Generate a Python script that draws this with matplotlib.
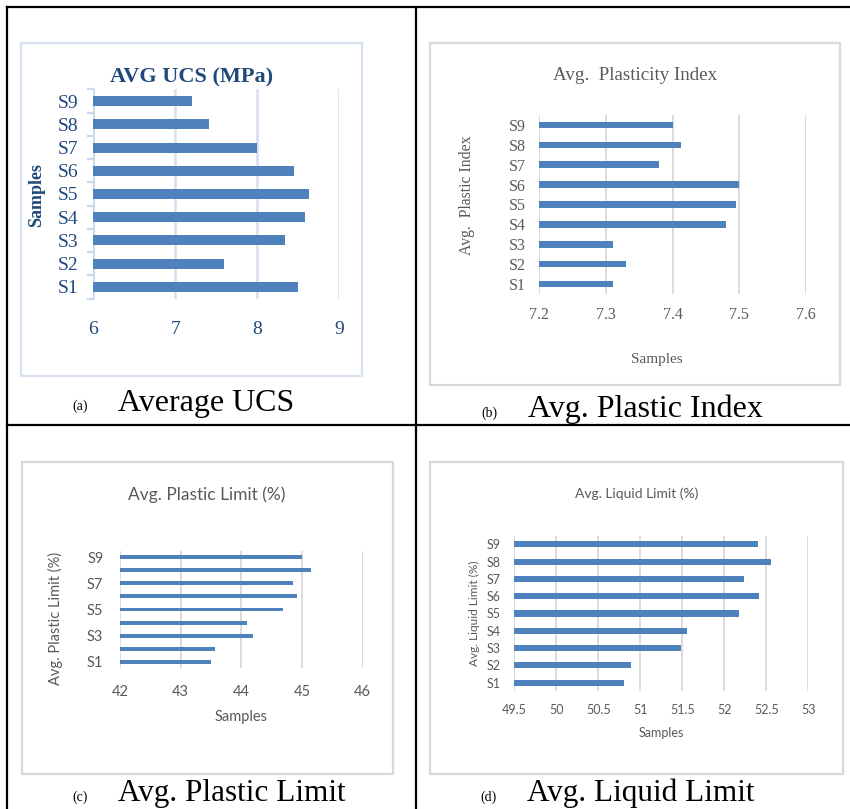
import numpy as np
import matplotlib.pyplot as plt
from matplotlib.lines import Line2D
from matplotlib.patches import Rectangle

W, H = 850, 809

samples = ['S1', 'S2', 'S3', 'S4', 'S5', 'S6', 'S7', 'S8', 'S9']
ucs = [8.50, 7.60, 8.34, 8.58, 8.63, 8.45, 8.00, 7.41, 7.20]
plastic_index = [7.31, 7.33, 7.31, 7.48, 7.495, 7.50, 7.38, 7.413, 7.40]
plastic_limit = [43.50, 43.57, 44.19, 44.09, 44.69, 44.91, 44.85, 45.15, 45.00]
liquid_limit = [50.80, 50.885, 51.48, 51.56, 52.18, 52.41, 52.23, 52.55, 52.40]

ucs_ticks = [6, 7, 8, 9]
pi_ticks = [7.2, 7.3, 7.4, 7.5, 7.6]
pl_ticks = [42, 43, 44, 45, 46]
ll_ticks = [49.5, 50, 50.5, 51, 51.5, 52, 52.5, 53]

BAR = '#4f81bd'
GRAY = '#595959'
NAVY = '#1f497d'
SERIF = 'Liberation Serif'
SANS = 'Lato'


def rect(x0, y0, x1, y1):
    # pixel box (top-left origin) -> figure fraction
    return [x0 / W, 1 - y1 / H, (x1 - x0) / W, (y1 - y0) / H]


def ftext(x, y, s, **kw):
    fig.text(x / W, 1 - y / H, s, **kw)


def frame(x0, y0, x1, y1, color):
    fig.add_artist(Rectangle((x0 / W, 1 - y1 / H), (x1 - x0) / W, (y1 - y0) / H,
                             transform=fig.transFigure, fill=False,
                             edgecolor=color, lw=1.6))


def panel(box, values, ticks, height, grid, font, tcolor, tsize, xpad, ypad,
          ylabels=None):
    ax = fig.add_axes(rect(*box))
    y = np.arange(len(samples))
    ax.barh(y, values, height=height, color=BAR, zorder=3)
    ax.set_xlim(ticks[0], ticks[-1])
    ax.set_ylim(-0.5, len(samples) - 0.5)
    ax.set_xticks(ticks)
    ax.set_xticklabels([('%g' % t) for t in ticks], family=font, color=tcolor, size=tsize)
    ax.set_yticks(y)
    ax.set_yticklabels(ylabels if ylabels else samples, family=font, color=tcolor, size=tsize)
    ax.tick_params(axis='x', length=0, pad=xpad)
    ax.tick_params(axis='y', length=0, pad=ypad)
    for s in ax.spines.values():
        s.set_visible(False)
    ax.set_facecolor('none')
    ax.grid(axis='x', color=grid, lw=1.3, zorder=0)
    ax.grid(axis='y', visible=False)
    return ax


fig = plt.figure(figsize=(8.5, 8.09), dpi=100)

# table lines
for (x0, y0, x1, y1) in [(7, 7, 850, 7), (7, 7, 7, 809), (416, 7, 416, 809), (7, 425, 850, 425)]:
    fig.add_artist(Line2D([x0 / W, x1 / W], [1 - y0 / H, 1 - y1 / H],
                          transform=fig.transFigure, color='black', lw=1.6))

# panel frames
frame(21, 43, 362, 376, '#d6e2f1')
frame(430, 43, 840, 385, '#d9d9d9')
frame(22, 462, 393, 774, '#d9d9d9')
frame(430, 462, 843, 774, '#d9d9d9')

# (a) average UCS
ax = panel((93.3, 89.4, 339.3, 298.6), ucs, ucs_ticks, 0.43, '#d4e0ef', SERIF, NAVY, 14, 16, 10.5)
ax.grid(axis='x', color='#d4e0ef', lw=1.8, zorder=0)
ax.axvline(6, color='#c9d8ec', lw=1.8, zorder=2)
for b in np.arange(-0.5, 9, 1):
    ax.plot([5.94, 6], [b, b], color='#c9d8ec', lw=1.6, clip_on=False, zorder=2)
ftext(192, 77, 'AVG UCS (MPa)', family=SERIF, weight='bold', color=NAVY, size=16, ha='center', va='center')
ftext(37, 195, 'Samples', family=SERIF, weight='bold', color=NAVY, size=13, ha='center', va='center', rotation=90)

# (b) plasticity index
panel((539.3, 115, 806, 294), plastic_index, pi_ticks, 0.33, '#d9d9d9', SERIF, GRAY, 11.5, 9.5, 9.5)
ftext(635, 76, 'Avg.  Plasticity Index', family=SERIF, color=GRAY, size=13.7, ha='center', va='center')
ftext(467, 195, 'Avg.  Plastic Index', family=SERIF, color=GRAY, size=11.3, ha='center', va='center', rotation=90)
ftext(657, 360, 'Samples', family=SERIF, color=GRAY, size=11, ha='center', va='center')

# (c) plastic limit
odd = [s if i % 2 == 0 else '' for i, s in enumerate(samples)]
panel((120, 550.8, 362.7, 668.2), plastic_limit, pl_ticks, 0.3, '#d9d9d9', SANS, GRAY, 10.5, 12, 12, ylabels=odd)
ftext(207, 495, 'Avg. Plastic Limit (%)', family=SANS, color=GRAY, size=12.5, ha='center', va='center')
ftext(55, 618, 'Avg. Plastic Limit (%)', family=SANS, color=GRAY, size=10.5, ha='center', va='center', rotation=90)
ftext(241, 717, 'Samples', family=SANS, color=GRAY, size=10.5, ha='center', va='center')

# (d) liquid limit
panel((514.3, 535.7, 808.3, 691.3), liquid_limit, ll_ticks, 0.35, '#d9d9d9', SANS, GRAY, 9, 9.5, 9.5)
ftext(637, 494, 'Avg. Liquid Limit (%)', family=SANS, color=GRAY, size=10, ha='center', va='center')
ftext(474, 613, 'Avg. Liquid Limit (%)', family=SANS, color=GRAY, size=8.6, ha='center', va='center', rotation=90)
ftext(661, 733, 'Samples', family=SANS, color=GRAY, size=9, ha='center', va='center')

# captions
ftext(72, 410, '(a)', family=SERIF, size=10, va='baseline')
ftext(118, 411, 'Average UCS', family=SERIF, size=23, va='baseline')
ftext(481, 417, '(b)', family=SERIF, size=10, va='baseline')
ftext(528, 417, 'Avg. Plastic Index', family=SERIF, size=23, va='baseline')
ftext(72, 801, '(c)', family=SERIF, size=10, va='baseline')
ftext(118, 801, 'Avg. Plastic Limit', family=SERIF, size=22.5, va='baseline')
ftext(480, 801, '(d)', family=SERIF, size=10, va='baseline')
ftext(527, 801, 'Avg. Liquid Limit', family=SERIF, size=22.5, va='baseline')

fig.savefig('out.png', dpi=100)
